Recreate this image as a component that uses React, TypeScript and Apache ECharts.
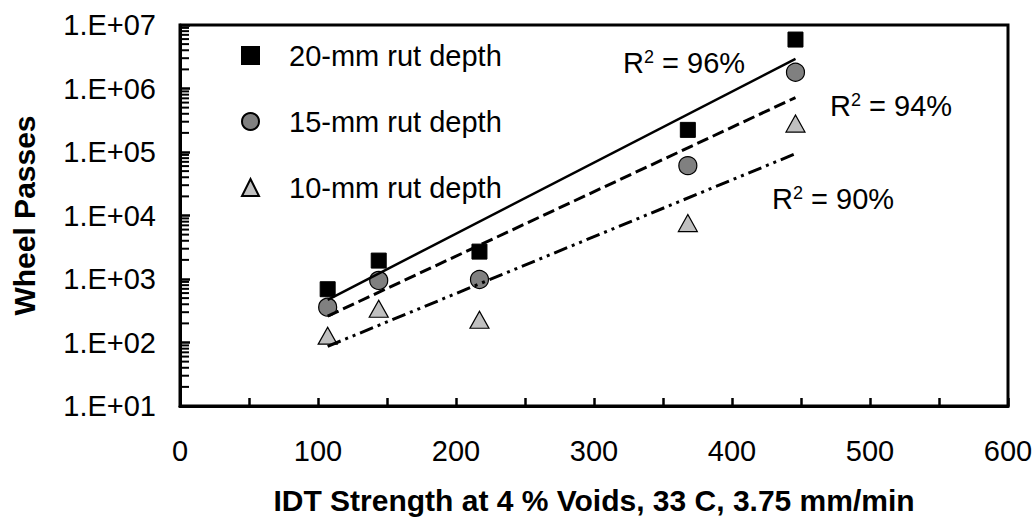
import React, { useEffect, useRef } from 'react';
import * as echarts from 'echarts';

// ---- data ----
const idtStrength = [107, 144, 217, 368, 446];
const rut20 = [690, 1950, 2700, 2.23e5, 5.9e6];
const rut15 = [360, 950, 980, 6.1e4, 1.8e6];
const rut10 = [128, 340, 228, 7.6e3, 2.8e5];

const trendX = [107, 446];
const trend20 = [470, 2.93e6];
const trend15 = [260, 7.2e5];
const trend10 = [87, 9.4e4];

const seriesNames = ['20-mm rut depth', '15-mm rut depth', '10-mm rut depth'];
const r2Texts = ['96%', '94%', '90%'];

const yTickLabels = ['1.E+01', '1.E+02', '1.E+03', '1.E+04', '1.E+05', '1.E+06', '1.E+07'];
const yDecades = [10, 100, 1000, 1e4, 1e5, 1e6];
const minorMultipliers = [2, 3, 4, 5, 6, 7, 8, 9];

const FONT = '"Liberation Sans", Arial, sans-serif';
const FS = 29;

export default function App() {
  const ref = useRef<HTMLDivElement>(null);
  useEffect(() => {
    if (!ref.current) return;
    const chart = echarts.init(ref.current, null, { renderer: 'svg' });

    const pts = (ys: number[]) => idtStrength.map((x, i) => [x, ys[i]]);
    const tl = (ys: number[]) => trendX.map((x, i) => [x, ys[i]]);
    const minorTicks: number[][] = [];
    yDecades.forEach((d) => minorMultipliers.forEach((m) => minorTicks.push([0, d * m])));

    const r2 = (t: string, x: number, y: number) => ({
      type: 'text',
      x,
      y,
      z: 100,
      style: {
        text: `{r|R}{s|2}{r| = ${t}}`,
        verticalAlign: 'middle',
        rich: {
          r: { fontSize: FS, fontFamily: FONT, fill: '#000', lineHeight: 30 },
          s: { fontSize: 18, fontFamily: FONT, fill: '#000', lineHeight: 18, verticalAlign: 'top' },
        },
      },
    });

    chart.setOption({
      animation: false,
      backgroundColor: '#fff',
      textStyle: { fontFamily: FONT },
      grid: {
        left: 180,
        right: 28,
        top: 25,
        bottom: 110,
        show: true,
        borderColor: '#000',
        borderWidth: 3,
      },
      legend: {
        data: seriesNames,
        orient: 'vertical',
        left: 236,
        top: 36,
        itemWidth: 17,
        itemHeight: 17,
        itemGap: 37,
        selectedMode: false,
        textStyle: {
          fontSize: FS,
          fontFamily: FONT,
          color: '#000',
          lineHeight: 28,
          padding: [0, 0, 0, 25],
        },
      },
      xAxis: {
        type: 'value',
        min: 0,
        max: 600,
        interval: 50,
        name: 'IDT Strength at 4 % Voids, 33 C, 3.75 mm/min',
        nameLocation: 'middle',
        nameGap: 79,
        nameTextStyle: { fontSize: 30, fontWeight: 'bold', fontFamily: FONT, color: '#000' },
        axisLine: { show: true, lineStyle: { color: '#000', width: 3 } },
        axisTick: { show: true, inside: true, length: 8, lineStyle: { color: '#000', width: 2.5 } },
        axisLabel: {
          fontSize: FS,
          fontFamily: FONT,
          color: '#000',
          margin: 30,
          formatter: (v: number) => (v % 100 === 0 ? String(v) : ''),
        },
        splitLine: { show: false },
      },
      yAxis: {
        type: 'log',
        logBase: 10,
        min: 10,
        max: 1e7,
        interval: 1,
        name: 'Wheel Passes',
        nameLocation: 'middle',
        nameGap: 141,
        nameTextStyle: { fontSize: 30, fontWeight: 'bold', fontFamily: FONT, color: '#000' },
        axisLine: { show: true, lineStyle: { color: '#000', width: 3 } },
        axisTick: { show: true, inside: true, length: 10, lineStyle: { color: '#000', width: 2.5 } },
        axisLabel: {
          fontSize: FS,
          fontFamily: FONT,
          color: '#000',
          margin: 24,
          formatter: (v: number) => yTickLabels[Math.round(Math.log10(v)) - 1] ?? '',
        },
        splitLine: { show: false },
      },
      series: [
        {
          name: seriesNames[0],
          type: 'scatter',
          symbol: 'rect',
          symbolSize: 15,
          itemStyle: { color: '#000', borderColor: '#000', borderWidth: 1, opacity: 1 },
          data: pts(rut20),
        },
        {
          name: seriesNames[1],
          type: 'scatter',
          symbol: 'circle',
          symbolSize: 18,
          itemStyle: { color: '#808080', borderColor: '#000', borderWidth: 1.2, opacity: 1 },
          data: pts(rut15),
        },
        {
          name: seriesNames[2],
          type: 'scatter',
          symbol: 'triangle',
          symbolSize: [19, 17],
          itemStyle: { color: '#c0c0c0', borderColor: '#000', borderWidth: 1.2, opacity: 1 },
          data: pts(rut10),
        },
        {
          name: 'trend20',
          type: 'line',
          symbol: 'none',
          lineStyle: { color: '#000', width: 2.5, type: 'solid' },
          data: tl(trend20),
          z: 3,
        },
        {
          name: 'trend15',
          type: 'line',
          symbol: 'none',
          lineStyle: { color: '#000', width: 3, type: [12, 5] },
          data: tl(trend15),
          z: 3,
        },
        {
          name: 'trend10',
          type: 'line',
          symbol: 'none',
          lineStyle: { color: '#000', width: 3, type: [14, 5, 3, 5, 3, 5] },
          data: tl(trend10),
          z: 3,
        },
        {
          name: 'minorTicks',
          type: 'custom',
          silent: true,
          clip: false,
          z: 5,
          encode: { x: 0, y: 1 },
          data: minorTicks,
          renderItem: (_p: any, api: any) => {
            const c = api.coord([0, api.value(1)]);
            return {
              type: 'line',
              shape: { x1: c[0], y1: c[1], x2: c[0] + 9, y2: c[1] },
              style: { stroke: '#000', lineWidth: 2 },
            };
          },
        },
      ],
      graphic: [r2(r2Texts[0], 623, 63), r2(r2Texts[1], 830, 106), r2(r2Texts[2], 772, 199)],
    });

    return () => chart.dispose();
  }, []);

  return (
    <div
      ref={ref}
      style={{ position: 'fixed', left: 0, top: 0, width: 1036, height: 520, background: '#fff' }}
    />
  );
}
